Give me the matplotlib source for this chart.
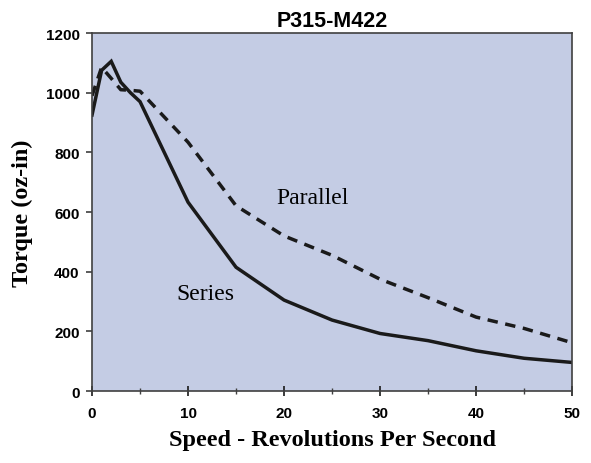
import matplotlib.pyplot as plt
from matplotlib.ticker import MultipleLocator

# torque curve data
series_speed = [0, 1, 2, 3, 4, 5, 10, 15, 20, 25, 30, 35, 40, 45, 50]
series_torque = [925, 1075, 1105, 1035, 1000, 970, 633, 415, 305, 238, 193, 169, 135, 110, 96]

parallel_speed = [0, 1, 2, 3, 4, 5, 10, 15, 20, 25, 30, 35, 40, 45, 50]
parallel_torque = [990, 1085, 1048, 1010, 1008, 1005, 834, 621, 520, 455, 375, 313, 248, 210, 162]

fig = plt.figure(figsize=(5.91, 4.64), dpi=100)
ax = fig.add_axes([0.1557, 0.155, 0.8123, 0.7717])
ax.set_facecolor('#C4CCE4')

ax.plot(series_speed, series_torque, color='#1a1a1a', lw=2.5, solid_joinstyle='miter')
ax.plot(parallel_speed, parallel_torque, color='#1a1a1a', lw=2.5, linestyle=(0, (3.0, 2.2)))

ax.text(19.24, 630, 'Parallel', family='Liberation Serif', fontsize=17, va='baseline')
ax.text(8.75, 308, 'Series', family='Liberation Serif', fontsize=17, va='baseline')

ax.set_xlim(0, 50)
ax.set_ylim(0, 1200)
ax.xaxis.set_major_locator(MultipleLocator(10))
ax.xaxis.set_minor_locator(MultipleLocator(5))
ax.yaxis.set_major_locator(MultipleLocator(200))

for s in ax.spines.values():
    s.set_color('#404040')
    s.set_linewidth(1.2)

ax.tick_params(axis='x', which='major', direction='inout', length=7, width=1.2, color='#1a1a1a', pad=7)
ax.tick_params(axis='x', which='minor', direction='inout', length=5, width=1, color='#404040')
ax.tick_params(axis='y', which='major', direction='out', length=4, width=1.2, color='#404040', pad=5)

for lab in ax.get_xticklabels() + ax.get_yticklabels():
    lab.set_family('Liberation Sans')
    lab.set_fontweight('bold')
    lab.set_fontsize(11)

ax.set_title('P315-M422', family='Liberation Sans', fontweight='bold', fontsize=15.5, pad=5)
ax.set_xlabel('Speed - Revolutions Per Second', family='Liberation Serif', fontweight='bold', fontsize=17.5, labelpad=7)
ax.set_ylabel('Torque (oz-in)', family='Liberation Serif', fontweight='bold', fontsize=17.5, labelpad=9)

fig.savefig('out.png', dpi=100)
